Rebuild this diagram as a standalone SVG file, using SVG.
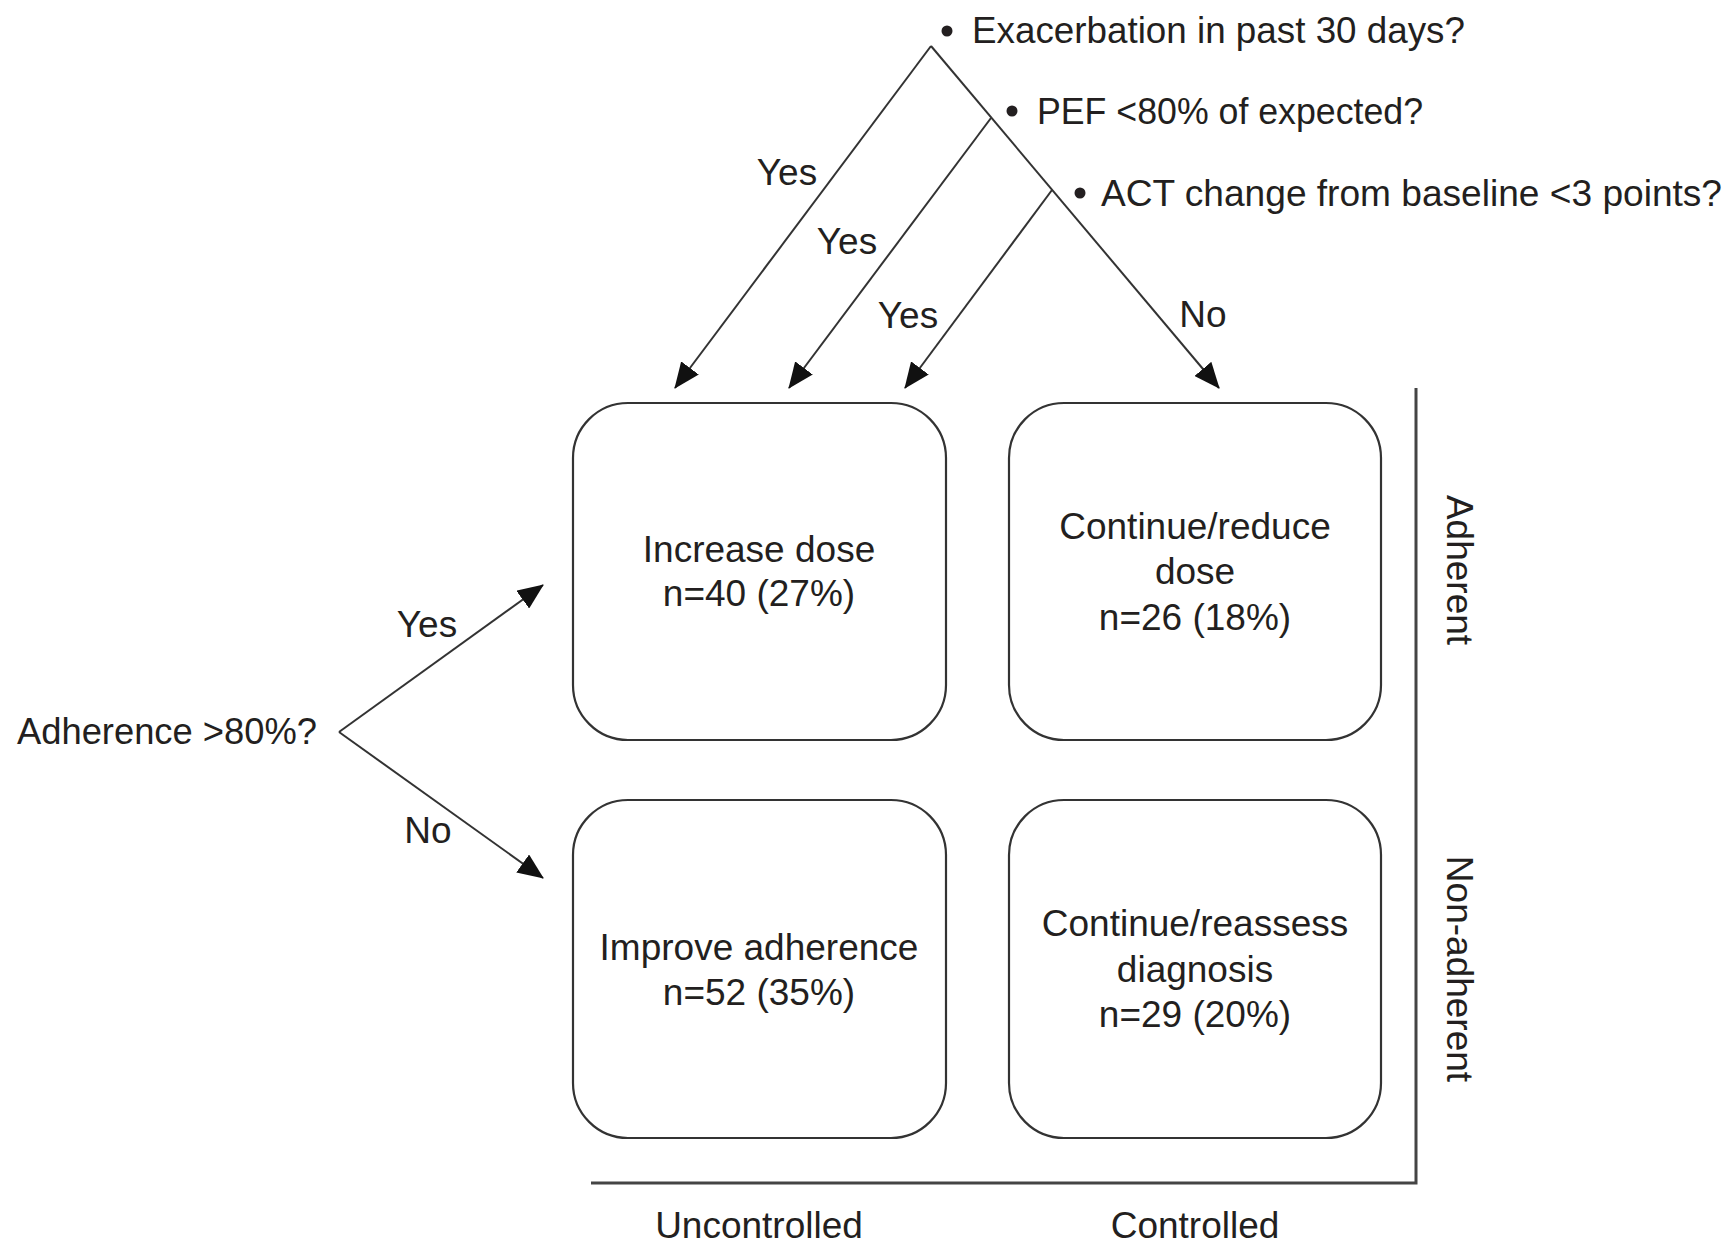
<svg xmlns="http://www.w3.org/2000/svg" width="1730" height="1245" viewBox="0 0 1730 1245">
<style>
text{font-family:"Liberation Sans",Arial,sans-serif;font-size:37px;fill:#231f20}
.m{text-anchor:middle}
.box{fill:#fff;stroke:#333;stroke-width:2.2}
.ln{fill:none;stroke:#333;stroke-width:2}
.ax{fill:none;stroke:#444;stroke-width:3}
</style>
<defs>
<marker id="ah" markerUnits="userSpaceOnUse" markerWidth="26" markerHeight="22" viewBox="0 0 26 22" refX="25" refY="11" orient="auto">
<path d="M0,0 L26,11 L0,22 Z" fill="#111"/>
</marker>
</defs>
<rect width="1730" height="1245" fill="#fff"/>
<g id="connectors">
<line class="ln" x1="931" y1="46" x2="675" y2="388" marker-end="url(#ah)"/>
<line class="ln" x1="931" y1="46" x2="1219" y2="388" marker-end="url(#ah)"/>
<line class="ln" x1="991" y1="118" x2="789" y2="388" marker-end="url(#ah)"/>
<line class="ln" x1="1052" y1="190" x2="905" y2="388" marker-end="url(#ah)"/>
<line class="ln" x1="339" y1="732" x2="543" y2="585" marker-end="url(#ah)"/>
<line class="ln" x1="339" y1="732" x2="543" y2="878" marker-end="url(#ah)"/>
<text class="m" x="787" y="185">Yes</text>
<text class="m" x="847" y="254">Yes</text>
<text class="m" x="908" y="328">Yes</text>
<text class="m" x="1203" y="327">No</text>
<text class="m" x="427" y="637">Yes</text>
<text class="m" x="428" y="843">No</text>
</g>
<g id="questions">
<circle cx="947" cy="31" r="5.5" fill="#231f20"/>
<text x="972" y="43" textLength="493" lengthAdjust="spacingAndGlyphs">Exacerbation in past 30 days?</text>
<circle cx="1012" cy="111" r="5.5" fill="#231f20"/>
<text x="1037" y="124" textLength="386" lengthAdjust="spacingAndGlyphs">PEF &lt;80% of expected?</text>
<circle cx="1080" cy="193" r="5.5" fill="#231f20"/>
<text x="1101" y="206" textLength="621" lengthAdjust="spacingAndGlyphs">ACT change from baseline &lt;3 points?</text>
<text x="17" y="744" textLength="300" lengthAdjust="spacingAndGlyphs">Adherence &gt;80%?</text>
</g>
<g id="box-increase">
<rect class="box" x="573" y="403" width="373" height="337" rx="55" ry="55"/>
<text class="m" x="759" y="562">Increase dose</text>
<text class="m" x="759" y="606">n=40 (27%)</text>
</g>
<g id="box-continue-reduce">
<rect class="box" x="1009" y="403" width="372" height="337" rx="55" ry="55"/>
<text class="m" x="1195" y="539">Continue/reduce</text>
<text class="m" x="1195" y="584">dose</text>
<text class="m" x="1195" y="630">n=26 (18%)</text>
</g>
<g id="box-improve">
<rect class="box" x="573" y="800" width="373" height="338" rx="55" ry="55"/>
<text class="m" x="759" y="960">Improve adherence</text>
<text class="m" x="759" y="1005">n=52 (35%)</text>
</g>
<g id="box-reassess">
<rect class="box" x="1009" y="800" width="372" height="338" rx="55" ry="55"/>
<text class="m" x="1195" y="936">Continue/reassess</text>
<text class="m" x="1195" y="982">diagnosis</text>
<text class="m" x="1195" y="1027">n=29 (20%)</text>
</g>
<g id="axes">
<polyline class="ax" points="591,1183 1416,1183 1416,388"/>
<text class="m" x="759" y="1238">Uncontrolled</text>
<text class="m" x="1195" y="1238">Controlled</text>
<text class="m" x="1459" y="570" dominant-baseline="central" transform="rotate(90 1459 570)">Adherent</text>
<text class="m" x="1459" y="969" dominant-baseline="central" transform="rotate(90 1459 969)">Non-adherent</text>
</g>
</svg>
